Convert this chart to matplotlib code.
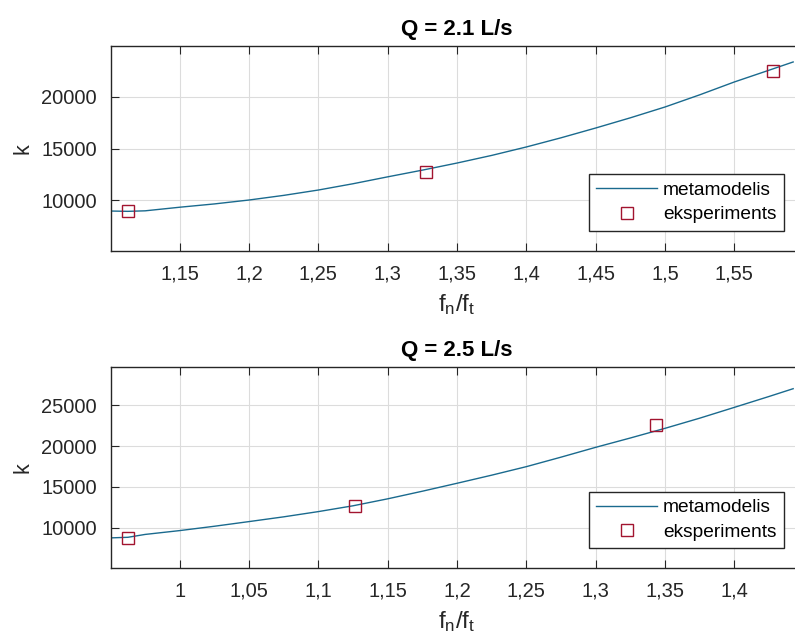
import matplotlib
matplotlib.use("Agg")
import matplotlib.pyplot as plt
from matplotlib.ticker import FuncFormatter

plt.rcParams["font.family"] = ["Liberation Sans", "DejaVu Sans"]
plt.rcParams["mathtext.fontset"] = "custom"
plt.rcParams["mathtext.rm"] = "Liberation Sans"
plt.rcParams["mathtext.it"] = "Liberation Sans"

LINE_COLOR = "#1a6a8e"
MARKER_COLOR = "#A2142F"
TEXT_COLOR = "#262626"

# Q = 2.1 L/s
model_x_21 = [1.1004, 1.1126, 1.125, 1.15, 1.175, 1.2, 1.225, 1.25, 1.275, 1.3, 1.325,
              1.35, 1.375, 1.4, 1.425, 1.45, 1.475, 1.5, 1.525, 1.55, 1.575, 1.5924]
model_k_21 = [8930, 8900, 8950, 9300, 9620, 10000, 10450, 10970, 11580, 12250, 12900,
              13590, 14330, 15150, 16040, 16990, 17980, 19030, 20210, 21460, 22600, 23400]
exp_x_21 = [1.1126, 1.3277, 1.578]
exp_k_21 = [8930, 12720, 22520]

# Q = 2.5 L/s
model_x_25 = [0.9504, 0.9626, 0.975, 1.0, 1.025, 1.05, 1.075, 1.1, 1.125, 1.15, 1.175, 1.2,
              1.225, 1.25, 1.275, 1.3, 1.325, 1.35, 1.375, 1.4, 1.425, 1.4424]
model_k_25 = [8780, 8850, 9200, 9670, 10200, 10770, 11350, 11990, 12700, 13550, 14480, 15450,
              16440, 17480, 18640, 19840, 20980, 22160, 23400, 24720, 26050, 27000]
exp_x_25 = [0.9626, 1.1266, 1.3435]
exp_k_25 = [8780, 12680, 22560]

x_ticks_21 = [1.15, 1.2, 1.25, 1.3, 1.35, 1.4, 1.45, 1.5, 1.55]
y_ticks_21 = [10000, 15000, 20000]
x_ticks_25 = [1.0, 1.05, 1.1, 1.15, 1.2, 1.25, 1.3, 1.35, 1.4]
y_ticks_25 = [10000, 15000, 20000, 25000]


def comma_format(value, _pos):
    text = f"{value:.2f}".rstrip("0").rstrip(".")
    return text.replace(".", ",")


def draw_panel(ax, title, mx, mk, ex, ek, xticks, yticks, xlim, ylim):
    ax.plot(mx, mk, color=LINE_COLOR, linewidth=1.0, label="metamodelis")
    ax.plot(ex, ek, linestyle="none", marker="s", markersize=9, markerfacecolor="none",
            markeredgecolor=MARKER_COLOR, markeredgewidth=1.0, label="eksperiments")
    ax.set_xlim(*xlim)
    ax.set_ylim(*ylim)
    ax.set_xticks(xticks)
    ax.set_yticks(yticks)
    ax.xaxis.set_major_formatter(FuncFormatter(comma_format))
    ax.grid(True, color="#dcdcdc", linewidth=0.8)
    ax.set_axisbelow(True)
    ax.tick_params(direction="in", top=True, right=True, length=6, width=0.8,
                   labelsize=14.5, colors=TEXT_COLOR, pad=10)
    for spine in ax.spines.values():
        spine.set_color(TEXT_COLOR)
        spine.set_linewidth(1.0)
    ax.set_title(title, fontsize=16, fontweight="bold", color="black", pad=8)
    ax.set_xlabel(r"f$_\mathregular{n}$/f$_\mathregular{t}$", fontsize=17.5,
                  color=TEXT_COLOR, labelpad=6)
    ax.set_ylabel("k", fontsize=15.5, color=TEXT_COLOR, labelpad=6)
    leg = ax.legend(loc="lower right", bbox_to_anchor=(0.9725, 0.1), fontsize=13.8,
                    frameon=True, fancybox=False, framealpha=1, edgecolor=TEXT_COLOR,
                    handlelength=3.2, handletextpad=0.3, borderpad=0.38, labelspacing=0.35,
                    borderaxespad=0)
    leg.get_frame().set_linewidth(1.0)


fig = plt.figure(figsize=(7.95, 6.39), dpi=100)
left = 111 / 795
width = 692 / 795
ax1 = fig.add_axes([left, 1 - 251 / 639, width, 205 / 639])
ax2 = fig.add_axes([left, 1 - 568 / 639, width, 201 / 639])

draw_panel(ax1, "Q = 2.1 L/s", model_x_21, model_k_21, exp_x_21, exp_k_21,
           x_ticks_21, y_ticks_21, (1.1004, 1.5995), (5050, 24950))
draw_panel(ax2, "Q = 2.5 L/s", model_x_25, model_k_25, exp_x_25, exp_k_25,
           x_ticks_25, y_ticks_25, (0.9504, 1.4495), (5100, 29650))

fig.savefig("out.png", dpi=100)
